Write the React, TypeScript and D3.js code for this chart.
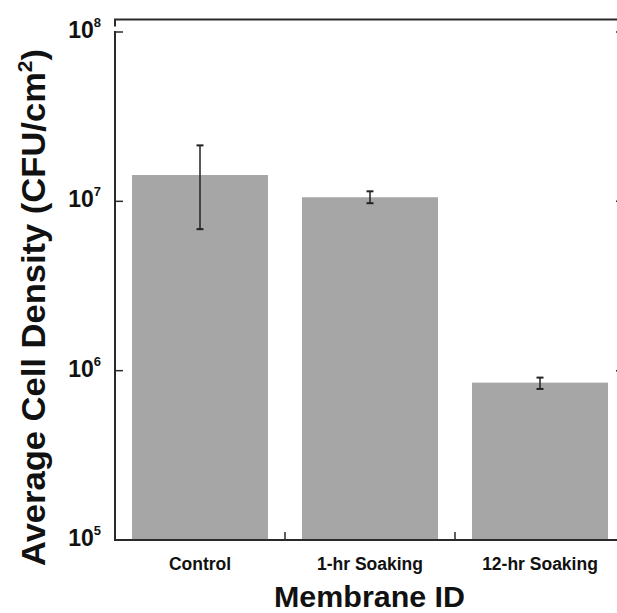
import React from "react";
import * as d3 from "d3";

const categories = ["Control", "1-hr Soaking", "12-hr Soaking"];
const means = [1.43e7, 1.057e7, 8.5e5];
const errLow = [6.85e6, 9.75e6, 7.8e5];
const errHigh = [2.14e7, 1.146e7, 9.1e5];
const yTickExps = [5, 6, 7, 8];

const W = 617;
const H = 613;
const FONT = "'Liberation Sans', Arial, Helvetica, sans-serif";

export default function App() {
  const left = 115;
  const right = 625;
  const top = 32;
  const bottom = 540;
  const frameTop = 19.5;

  const y = d3.scaleLog().domain([1e5, 1e8]).range([bottom, top]);
  const x = d3
    .scaleBand<string>()
    .domain(categories)
    .range([left, right])
    .paddingInner(0.2)
    .paddingOuter(0.1);
  const step = x.step();
  const bw = x.bandwidth();
  const boundaries = categories.slice(1).map((c) => (x(c) as number) - (step - bw) / 2);
  const axisColor = "#2a2a2a";
  const capW = 3.5;

  return (
    <svg
      width={W}
      height={H}
      style={{ position: "absolute", left: 0, top: 0, background: "#fff" }}
      fontFamily={FONT}
    >
      <rect x={0} y={0} width={W} height={H} fill="#fff" />
      {categories.map((c, i) => (
        <rect
          key={c}
          x={x(c)}
          y={y(means[i])}
          width={bw}
          height={bottom - y(means[i])}
          fill="#a6a6a6"
        />
      ))}
      {categories.map((c, i) => {
        const cx = (x(c) as number) + bw / 2;
        return (
          <g key={"e" + c} stroke="#222" strokeWidth={1.5}>
            <line x1={cx} x2={cx} y1={y(errHigh[i])} y2={y(errLow[i])} />
            <line x1={cx - capW} x2={cx + capW} y1={y(errHigh[i])} y2={y(errHigh[i])} strokeWidth={2} />
            <line x1={cx - capW} x2={cx + capW} y1={y(errLow[i])} y2={y(errLow[i])} strokeWidth={2} />
          </g>
        );
      })}
      <line x1={left} x2={left} y1={top - 1} y2={bottom} stroke={axisColor} strokeWidth={2} />
      <line x1={left - 1} x2={W} y1={bottom} y2={bottom} stroke={axisColor} strokeWidth={2} />
      <line x1={left - 1} x2={W} y1={frameTop} y2={frameTop} stroke={axisColor} strokeWidth={2} />
      <line x1={left} x2={left} y1={frameTop} y2={frameTop + 7} stroke={axisColor} strokeWidth={2} />
      {yTickExps.map((e) => {
        const ty = y(Math.pow(10, e));
        return (
          <g key={"t" + e}>
            {e !== 5 && (
              <line x1={left} x2={left + 8} y1={ty} y2={ty} stroke={axisColor} strokeWidth={1.5} />
            )}
            <line x1={right - 9} x2={right} y1={ty} y2={ty} stroke={axisColor} strokeWidth={1.5} />
            <text
              x={101}
              y={ty + 6}
              textAnchor="end"
              fontSize={23}
              fontWeight="bold"
              fill="#111"
            >
              10
              <tspan dy={-11} fontSize={13}>
                {e}
              </tspan>
            </text>
          </g>
        );
      })}
      {boundaries.map((bx, i) => (
        <line key={"b" + i} x1={bx} x2={bx} y1={bottom} y2={bottom - 8} stroke={axisColor} strokeWidth={1.5} />
      ))}
      {categories.map((c) => (
        <text
          key={"l" + c}
          x={(x(c) as number) + bw / 2}
          y={570}
          textAnchor="middle"
          fontSize={17.5}
          fontWeight="bold"
          fill="#111"
        >
          {c}
        </text>
      ))}
      <text
        x={369.5}
        y={607}
        textAnchor="middle"
        fontSize={29}
        fontWeight="bold"
        fill="#111"
        textLength={191}
        lengthAdjust="spacingAndGlyphs"
      >
        Membrane ID
      </text>
      <text
        transform={`translate(45, 307.5) rotate(-90)`}
        textAnchor="middle"
        fontSize={33}
        fontWeight="bold"
        fill="#111"
        textLength={517}
        lengthAdjust="spacingAndGlyphs"
      >
        Average Cell Density (CFU/cm
        <tspan dy={-13} fontSize={20}>
          2
        </tspan>
        <tspan dy={13}>)</tspan>
      </text>
    </svg>
  );
}
